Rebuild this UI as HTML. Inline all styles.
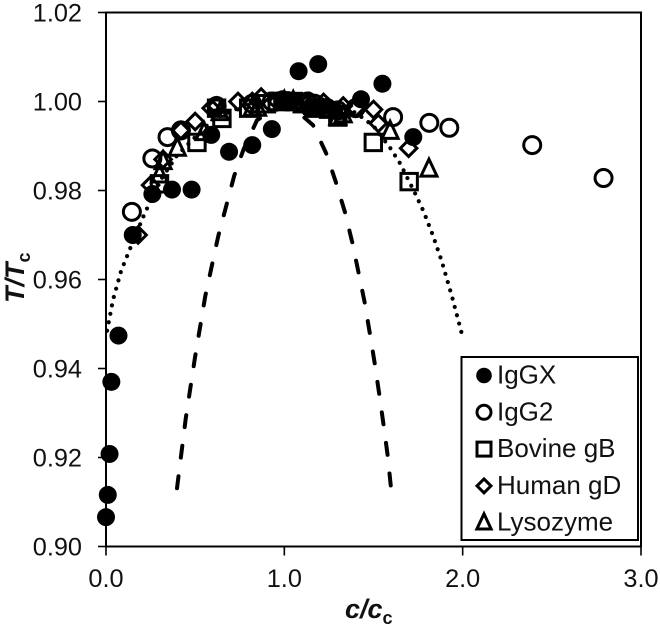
<!DOCTYPE html>
<html>
<head>
<meta charset="utf-8">
<title>T/Tc vs c/cc</title>
<style>
html,body{margin:0;padding:0;background:#fff;}
svg{display:block;}
text{font-family:"Liberation Sans",sans-serif;fill:#111;}
</style>
</head>
<body>
<svg id="chart" width="660" height="627" viewBox="0 0 660 627" xmlns="http://www.w3.org/2000/svg"></svg>
<script>
const xTickValues = [0, 1, 2, 3];
const yTickValues = [0.90, 0.92, 0.94, 0.96, 0.98, 1.00, 1.02];

const dashedC = [0.398, 0.447, 0.499, 0.557, 0.630, 0.719, 0.77, 0.847, 0.93, 1.00, 1.08, 1.161, 1.234, 1.290, 1.340, 1.381, 1.417, 1.451, 1.480, 1.508, 1.533, 1.557, 1.580, 1.598];
const dashedT = [0.9131, 0.9287, 0.9425, 0.9563, 0.9698, 0.9833, 0.9891, 0.9958, 0.9980, 0.9985, 0.9975, 0.9947, 0.9884, 0.9818, 0.9751, 0.9683, 0.9614, 0.9547, 0.9478, 0.9409, 0.9340, 0.9271, 0.9202, 0.9131];
const dottedC = [0.006, 0.04, 0.085, 0.146, 0.213, 0.30, 0.40, 0.50, 0.60, 0.80, 1.00, 1.20, 1.40, 1.50, 1.593, 1.649, 1.738, 1.78, 1.834, 1.882, 1.938, 2.002];
const dottedT = [0.9485, 0.9555, 0.9620, 0.9680, 0.9745, 0.9820, 0.9880, 0.9920, 0.9960, 0.9995, 1.000, 0.9995, 0.9975, 0.9945, 0.9896, 0.9861, 0.9790, 0.9754, 0.9698, 0.9642, 0.9565, 0.9468];

const iggxC = [0.00, 0.01, 0.02, 0.03, 0.07, 0.15, 0.26, 0.37, 0.48, 0.59, 0.69, 0.82, 0.93, 0.99, 1.02, 1.08, 1.19, 1.14, 1.20, 1.28, 1.43, 1.55, 1.723];
const iggxT = [0.9066, 0.9116, 0.9208, 0.9370, 0.9474, 0.9700, 0.9792, 0.9802, 0.9802, 0.9925, 0.9887, 0.9902, 0.9938, 1.0005, 1.0003, 1.0068, 1.0084, 0.9985, 0.9990, 0.9980, 1.0005, 1.0040, 0.9920];
const igg2C = [0.145, 0.26, 0.345, 0.42, 0.62, 0.82, 0.93, 1.02, 1.13, 1.17, 1.24, 1.30, 1.40, 1.61, 1.813, 1.925, 2.39, 2.79];
const igg2T = [0.9752, 0.9872, 0.9920, 0.9935, 0.9990, 0.9995, 1.0000, 1.0000, 1.0000, 0.9995, 0.9985, 0.9980, 0.9985, 0.9965, 0.9952, 0.9941, 0.9902, 0.9828];
const bovineC = [0.30, 0.51, 0.62, 0.65, 0.80, 0.90, 0.96, 1.00, 1.05, 1.10, 1.18, 1.30, 1.499, 1.70];
const bovineT = [0.9815, 0.9908, 0.9985, 0.9962, 0.9985, 0.9995, 1.0000, 1.0000, 1.0000, 0.9995, 0.9985, 0.9965, 0.9908, 0.9820];
const humanC = [0.18, 0.25, 0.32, 0.42, 0.50, 0.59, 0.62, 0.74, 0.82, 0.87, 0.96, 1.05, 1.14, 1.22, 1.33, 1.40, 1.50, 1.527, 1.697];
const humanT = [0.9700, 0.9812, 0.9870, 0.9935, 0.9955, 0.9985, 0.9990, 1.0000, 1.0000, 1.0010, 1.0000, 1.0000, 1.0000, 0.9998, 0.9990, 0.9985, 0.9982, 0.9951, 0.9895];
const lysozymeC = [0.30, 0.32, 0.40, 0.55, 0.64, 0.82, 0.85, 1.00, 1.05, 1.17, 1.25, 1.30, 1.33, 1.593, 1.811];
const lysozymeT = [0.9835, 0.9865, 0.9895, 0.9930, 0.9975, 0.9985, 0.9985, 1.0000, 1.0000, 0.9985, 0.9980, 0.9965, 0.9970, 0.9933, 0.9848];

const legendLabels = ['IgGX', 'IgG2', 'Bovine gB', 'Human gD', 'Lysozyme'];

const NS = 'http://www.w3.org/2000/svg';
const svg = document.getElementById('chart');
const X0 = 106, X1 = 641, Y0 = 546.5, Y1 = 12.5;
function sx(v){ return X0 + (v - 0) / 3 * (X1 - X0); }
function sy(v){ return Y0 - (v - 0.90) / 0.12 * (Y0 - Y1); }
function mk(tag, attrs, parent){
  const el = document.createElementNS(NS, tag);
  for (const k in attrs) el.setAttribute(k, attrs[k]);
  (parent || svg).appendChild(el);
  return el;
}
function marker(kind, x, y, r, parent){
  let el;
  if (kind === 'iggx') {
    el = mk('circle', {cx:x, cy:y, r:r, fill:'#000'}, parent);
  } else if (kind === 'igg2') {
    el = mk('circle', {cx:x, cy:y, r:r - 1, fill:'none', stroke:'#000', 'stroke-width':3}, parent);
  } else if (kind === 'bovine') {
    const s = r - 1;
    el = mk('rect', {x:x - s, y:y - s, width:2 * s, height:2 * s, fill:'none', stroke:'#000', 'stroke-width':3}, parent);
  } else if (kind === 'human') {
    const s = r * 0.87;
    el = mk('polygon', {points:[x, y - s, x + s, y, x, y + s, x - s, y].join(' '), fill:'none', stroke:'#000', 'stroke-width':3}, parent);
  } else {
    const s = r * 0.89;
    el = mk('polygon', {points:[x, y - r * 1.11, x + s, y + r * 0.78, x - s, y + r * 0.78].join(' '), fill:'none', stroke:'#000', 'stroke-width':3}, parent);
  }
  return el;
}

/* plot frame */
const frame = mk('rect', {x:X0, y:Y1, width:X1 - X0, height:Y0 - Y1, fill:'none', stroke:'#000', 'stroke-width':2});



/* ticks and labels */
xTickValues.forEach(function(v){
  const t = mk('line', {x1:sx(v), x2:sx(v), y1:Y0, y2:Y0 + 9, stroke:'#000', 'stroke-width':1.6});
  
  
  const l = mk('text', {x:sx(v), y:587, 'text-anchor':'middle', 'font-size':25.3});
  l.textContent = v.toFixed(1);
  
  
});
yTickValues.forEach(function(v){
  const t = mk('line', {x1:X0 - 8, x2:X0, y1:sy(v), y2:sy(v), stroke:'#000', 'stroke-width':1.6});
  
  
  const l = mk('text', {x:82, y:sy(v) + 9, 'text-anchor':'end', 'font-size':25.3});
  l.textContent = v.toFixed(2);
  
  
});

/* series, back to front */
const seriesList = [
  {kind:'lysozyme', c:lysozymeC, t:lysozymeT, r:9},
  {kind:'human', c:humanC, t:humanT, r:9.5},
  {kind:'bovine', c:bovineC, t:bovineT, r:9.2},
  {kind:'igg2', c:igg2C, t:igg2T, r:9.5},
  {kind:'iggx', c:iggxC, t:iggxT, r:9}
];
seriesList.forEach(function(s){
  const g = mk('g', {});
  
  
  s.c.forEach(function(c, i){
    const m = marker(s.kind, sx(c), sy(s.t[i]), s.r, g);
    
    
  });
});

/* fit curves */
function curve(cs, ts){
  return cs.map(function(c, i){ return sx(c).toFixed(1) + ',' + sy(ts[i]).toFixed(1); }).join(' ');
}
const dashed = mk('polyline', {points:curve(dashedC, dashedT), fill:'none', stroke:'#000', 'stroke-width':4, 'stroke-dasharray':'12 18.8', 'stroke-linecap':'round', 'stroke-linejoin':'round'});


const dotted = mk('polyline', {points:curve(dottedC, dottedT), fill:'none', stroke:'#000', 'stroke-width':4.2, 'stroke-dasharray':'0 8.6', 'stroke-linecap':'round', 'stroke-linejoin':'round'});



/* legend */
const legend = mk('g', {});


const legendBox = mk('rect', {x:461.5, y:357, width:176.5, height:183, fill:'#fff', stroke:'#000', 'stroke-width':2}, legend);


const legendKinds = ['iggx', 'igg2', 'bovine', 'human', 'lysozyme'];
legendLabels.forEach(function(name, i){
  const y = 375.5 + i * 36.8;
  const m = marker(legendKinds[i], 484, y, legendKinds[i] === 'iggx' ? 7.8 : 8, legend);
  
  
  const t = mk('text', {x:497, y:y + 8, 'font-size':26}, legend);
  t.textContent = name;
  
  
});

/* axis titles */
const xTitle = mk('text', {x:345, y:618, 'font-size':27, 'font-weight':'bold', 'font-style':'italic'});


const xa = mk('tspan', {}, xTitle); xa.textContent = 'c/c';
const xb = mk('tspan', {dy:6, 'font-size':18, 'font-weight':'bold', 'font-style':'normal'}, xTitle); xb.textContent = 'c';

const yTitle = mk('text', {transform:'translate(24,303) rotate(-90)', 'font-size':27, 'font-weight':'bold', 'font-style':'italic'});


const ya = mk('tspan', {}, yTitle); ya.textContent = 'T/T';
const yb = mk('tspan', {dy:6, 'font-size':18, 'font-weight':'bold', 'font-style':'normal'}, yTitle); yb.textContent = 'c';
</script>
</body>
</html>
